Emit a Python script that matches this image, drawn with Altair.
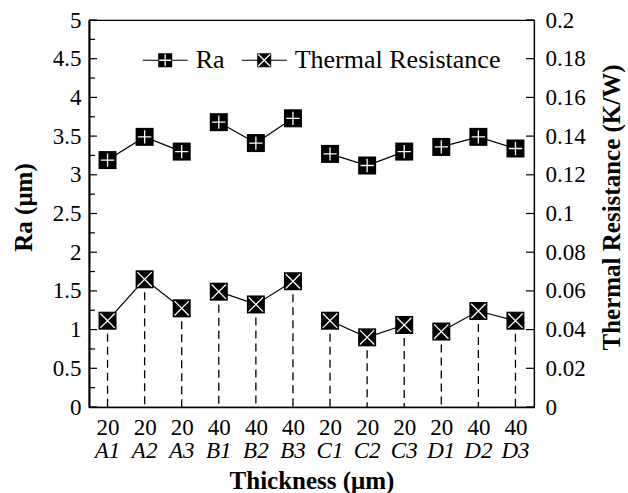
import altair as alt
import pandas as pd
import math

# ---------------- data ----------------
samples = ["A1", "A2", "A3", "B1", "B2", "B3", "C1", "C2", "C3", "D1", "D2", "D3"]
groups = ["A", "A", "A", "B", "B", "B", "C", "C", "C", "D", "D", "D"]
thickness = ["20", "20", "20", "40", "40", "40", "20", "20", "20", "20", "40", "40"]
ra_values = [3.19, 3.49, 3.30, 3.68, 3.41, 3.73, 3.27, 3.12, 3.30, 3.36, 3.49, 3.34]
tr_values = [0.0446, 0.066, 0.051, 0.0596, 0.053, 0.065, 0.0446, 0.036, 0.0424, 0.039, 0.0496, 0.0446]
series_names = ["Ra", "Thermal Resistance"]

ra_major_ticks = [0, 0.5, 1, 1.5, 2, 2.5, 3, 3.5, 4, 4.5, 5]
ra_minor_ticks = [0.25, 0.75, 1.25, 1.75, 2.25, 2.75, 3.25, 3.75, 4.25, 4.75]
tr_ticks = [0, 0.02, 0.04, 0.06, 0.08, 0.1, 0.12, 0.14, 0.16, 0.18, 0.2]

df = pd.DataFrame({
    "sample": samples, "group": groups, "thk": thickness,
    "ra": ra_values, "tr": tr_values, "idx": list(range(len(samples))),
})
ra_major_df = pd.DataFrame({"ra": ra_major_ticks})
ra_minor_df = pd.DataFrame({"ra": ra_minor_ticks})
tr_tick_df = pd.DataFrame({"tr": tr_ticks})
legend_df = pd.DataFrame({"series": series_names})

# ---------------- styling ----------------
FONT = "Liberation Serif"
W, H = 445, 387

def poly(pts):
    return "M" + "L".join(f"{x:.4f},{y:.4f}" for x, y in pts) + "Z"

def plus_pts(L, t):
    return [(-t, -L), (t, -L), (t, -t), (L, -t), (L, t), (t, t), (t, L),
            (-t, L), (-t, t), (-L, t), (-L, -t), (-t, -t)]

def rot(pts, a):
    c, s = math.cos(a), math.sin(a)
    return [(x * c - y * s, x * s + y * c) for x, y in pts]

def legend_symbol(hole):
    a = 0.311
    lt = 0.027
    sq = poly([(-a, -a), (a, -a), (a, a), (-a, a)])
    left = poly([(-1, -lt), (-a, -lt), (-a, lt), (-1, lt)])
    right = poly([(a, -lt), (1, -lt), (1, lt), (a, lt)])
    h = poly(list(reversed(hole)))
    return left + right + sq + h

ra_legend_path = legend_symbol(plus_pts(0.267, 0.029))
tr_legend_path = legend_symbol(rot(plus_pts(0.38, 0.029), math.pi / 4))

plus_path = "M-0.74,0L0.74,0M0,-0.74L0,0.74"
x_path = "M-0.8,-0.8L0.8,0.8M-0.8,0.8L0.8,-0.8"

label_map = "{" + ",".join(f"'{s}':'{t}'" for s, t in zip(samples, thickness)) + "}"

x_enc = alt.X(
    "sample:N",
    sort=samples,
    scale=alt.Scale(type="point", padding=0.5, domain=samples),
    axis=alt.Axis(
        orient="bottom", labelExpr=f"{label_map}[datum.value]", labelAngle=0,
        labelFont=FONT, labelFontSize=23, labelColor="black", labelPadding=9,
        ticks=False, domainColor="black", domainWidth=1.3, grid=False,
        title="Thickness (μm)", titleFont=FONT, titleFontSize=25, titleFontWeight="bold",
        titleColor="black", titleY=81, titleBaseline="alphabetic",
    ),
)

ra_y = alt.Y(
    "ra:Q",
    scale=alt.Scale(domain=[0, 5], nice=False),
    axis=alt.Axis(
        orient="left", values=ra_major_ticks, format=".1~f", ticks=False, labelPadding=8,
        labelFont=FONT, labelFontSize=23, labelColor="black",
        domainColor="black", domainWidth=2, grid=False,
        title="Ra (μm)", titleFont=FONT, titleFontSize=25, titleFontWeight="bold",
        titleColor="black", titleAngle=270, titleX=-66, titleY=187,
        titleBaseline="middle", titleAlign="center",
    ),
)

tr_y = alt.Y(
    "tr:Q",
    scale=alt.Scale(domain=[0, 0.2], nice=False),
    axis=alt.Axis(
        orient="right", values=tr_ticks, format=".2~f", ticks=False, labelPadding=11,
        labelFont=FONT, labelFontSize=23, labelColor="black",
        domainColor="black", domainWidth=1.2, grid=False,
        title="Thermal Resistance (K/W)", titleFont=FONT, titleFontSize=25,
        titleFontWeight="bold", titleColor="black", titleAngle=270, titleX=77.5,
        titleY=187, titleBaseline="middle", titleAlign="center",
    ),
)

base = alt.Chart(df)

# ---------------- Ra group ----------------
ra_line = base.mark_line(color="black", strokeWidth=1.2).encode(
    x=x_enc, y=ra_y, detail="group:N", order="idx:Q")
ra_sq = base.mark_point(shape="square", filled=True, size=324, color="black", opacity=1).encode(
    x=x_enc, y=ra_y)
ra_plus = base.mark_point(shape=plus_path, filled=False, size=324, color="white",
                          strokeWidth=1.3, opacity=1).encode(x=x_enc, y=ra_y)
ra_major = alt.Chart(ra_major_df).mark_rule(color="black", strokeWidth=1.2).encode(
    y=ra_y, x=alt.value(0), x2=alt.value(8))
ra_minor = alt.Chart(ra_minor_df).mark_rule(color="black", strokeWidth=1.2).encode(
    y=ra_y, x=alt.value(0), x2=alt.value(6))
names_txt = base.mark_text(font=FONT, fontSize=23, fontStyle="italic", color="black",
                           baseline="alphabetic", align="center").encode(
    x=x_enc, y=alt.value(438), text="sample:N")
legend_layer = alt.Chart(legend_df).mark_point(filled=True, color="black", opacity=0).encode(
    shape=alt.Shape(
        "series:N",
        scale=alt.Scale(domain=series_names, range=[ra_legend_path, tr_legend_path]),
        legend=alt.Legend(
            orient="none", legendX=53.7, legendY=17.5, direction="horizontal", title=None,
            symbolSize=2025, symbolFillColor="black", symbolStrokeWidth=0, symbolOpacity=1,
            labelFont=FONT, labelFontSize=26, labelColor="black", labelOffset=8,
            labelLimit=500, columnPadding=17, padding=0, rowPadding=0,
        ),
    )
)

ra_group = alt.layer(ra_major, ra_minor, ra_line, ra_sq, ra_plus, names_txt, legend_layer)

# ---------------- Thermal resistance group ----------------
tr_rule = base.mark_rule(color="black", strokeWidth=1.3, strokeDash=[8, 5]).encode(
    x=x_enc, y=tr_y, y2=alt.datum(0))
tr_line = base.mark_line(color="black", strokeWidth=1.2).encode(
    x=x_enc, y=tr_y, detail="group:N", order="idx:Q")
tr_sq = base.mark_point(shape="square", filled=True, size=324, color="black", opacity=1).encode(
    x=x_enc, y=tr_y)
tr_x = base.mark_point(shape=x_path, filled=False, size=324, color="white",
                       strokeWidth=1.3, opacity=1).encode(x=x_enc, y=tr_y)
tr_tk = alt.Chart(tr_tick_df).mark_rule(color="black", strokeWidth=1.2).encode(
    y=tr_y, x=alt.value(W - 8), x2=alt.value(W))

tr_group = alt.layer(tr_tk, tr_rule, tr_line, tr_sq, tr_x)

chart = alt.layer(ra_group, tr_group).resolve_scale(y="independent").properties(
    width=W, height=H,
    autosize=alt.AutoSizeParams(type="none"),
    padding={"left": 89, "top": 20, "right": 94, "bottom": 86},
    background="white",
).configure_view(stroke="black", strokeWidth=1.2)

chart.save("out.html", embed_options={"renderer": "svg", "actions": False})
